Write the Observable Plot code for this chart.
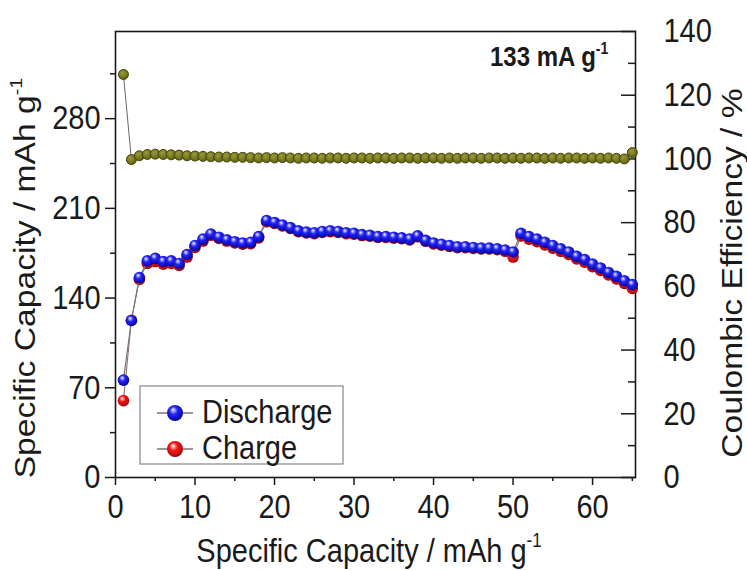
<!DOCTYPE html>
<html><head><meta charset="utf-8">
<script src="https://cdn.jsdelivr.net/npm/d3@7"></script>
<script src="https://cdn.jsdelivr.net/npm/@observablehq/plot@0.6"></script>
<style>body{margin:0;background:#fff;} svg{display:block}</style>
</head><body><div id="chart"></div>
<script>
// ---- data ----
const cycles = [1,2,3,4,5,6,7,8,9,10,11,12,13,14,15,16,17,18,19,20,21,22,23,24,25,26,27,28,29,30,31,32,33,34,35,36,37,38,39,40,41,42,43,44,45,46,47,48,49,50,51,52,53,54,55,56,57,58,59,60,61,62,63,64,65];
const discharge = [76,122.5,156,169,171,168.5,169,167,174,181,186,190,187.5,185.5,184,183,183.5,188,200.5,199,197,195,192.5,191.5,191,192,192.5,192,191,190.5,189.5,189,188,188,187.5,187,186,188.5,185,183,182,181,180,180,179.5,179,179,178.5,177.5,176,190.5,188,186,183.5,181,178.5,176,172.5,170,166.5,163.5,160,157,153.5,150.5];
const charge = [60,122.7,154.5,167,168.5,166.5,167,165.5,172,179.5,184.5,189,186.5,184.5,183,182,182.5,187,199.5,198.3,196.3,194.3,191.8,190.8,190.3,191.3,191.8,191.3,190.3,189.8,188.8,188.3,187.3,187.3,186.8,186.3,185.3,187.8,184.3,182.3,181.3,180.3,179.3,179.3,178.8,178.3,178.3,177.8,176.5,172,188.5,186,184,181.5,179,176.5,174,170.5,168,164.5,161.5,158,155,151.5,147.5];
const efficiency = [126.5,99.8,101,101.4,101.5,101.4,101.3,101.2,101,100.9,100.8,100.7,100.6,100.6,100.5,100.5,100.4,100.3,100.4,100.3,100.4,100.3,100.2,100.3,100.3,100.2,100.3,100.3,100.2,100.3,100.3,100.2,100.3,100.3,100.2,100.3,100.3,100.2,100.3,100.3,100.2,100.3,100.2,100.3,100.3,100.2,100.3,100.3,100.2,100.3,100.2,100.3,100.3,100.2,100.3,100.2,100.3,100.3,100.2,100.3,100.2,100.3,100.2,100.0,102];
const seriesNames = ["Discharge", "Charge"];
const capTicks = [0,70,140,210,280];
const capMinor = [35,105,175,245,315];
const ceTicks = [0,20,40,60,80,100,120,140];
const ceMinor = [10,30,50,70,90,110,130];
const xTicks = [0,10,20,30,40,50,60];
const xMinor = [5,15,25,35,45,55,65];
const xTitle = ["Specific Capacity / mAh g", "-1"];
const yTitle = ["Specific Capacity / mAh g", "-1"];
const y2Title = "Coulombic Efficiency / %";
const rateLabel = ["133 mA g", "-1"];

// ---- scales ----
const capMax = 348, ceMax = 140, K = capMax / ceMax;
const rows = cycles.map((c, i) => ({cycle: c, discharge: discharge[i], charge: charge[i], ce: efficiency[i]}));

const FONT = "'Liberation Sans', Arial, sans-serif";
const STRETCH = 1.16; // reference text is slightly tall
const plot = Plot.plot({
  width: 747, height: 570,
  marginLeft: 115, marginRight: 112, marginTop: 31, marginBottom: 93,
  style: {fontFamily: FONT, fontSize: "29px", background: "#fff", color: "#1a1a1a", overflow: "visible"},
  x: {domain: [0, 65.4], label: null},
  y: {domain: [0, capMax], label: null},
  marks: [
    Plot.axisX({ticks: xTicks, tickSize: 8, tickPadding: 9, label: null, strokeWidth: 1.5}),
    Plot.axisX({ticks: xMinor, tickSize: 4, tickFormat: () => "", label: null, strokeWidth: 1.5}),
    Plot.axisY({anchor: "left", ticks: capTicks, tickSize: 10, tickPadding: 5, label: null, strokeWidth: 1.5}),
    Plot.axisY({anchor: "left", ticks: capMinor, tickSize: 5, tickFormat: () => "", label: null, strokeWidth: 1.5}),
    Plot.axisY({anchor: "right", ticks: ceTicks.map(v => v * K), tickSize: 0, tickPadding: 28, tickFormat: v => String(Math.round(v / K)), label: null}),
    Plot.axisY({anchor: "right", ticks: ceTicks.map(v => v * K), tickSize: -15, tickFormat: () => "", label: null, strokeWidth: 1.5}),
    Plot.axisY({anchor: "right", ticks: ceMinor.map(v => v * K), tickSize: -8, tickFormat: () => "", label: null, strokeWidth: 1.5}),
    Plot.frame({stroke: "#1a1a1a", strokeWidth: 1.6}),
    Plot.line(rows, {x: "cycle", y: d => d.ce * K, stroke: "#666", strokeWidth: 1}),
    Plot.dot(rows, {x: "cycle", y: d => d.ce * K, r: 5, fill: "url(#gOlive)", stroke: "#46460c", strokeWidth: 1}),
    Plot.line(rows, {x: "cycle", y: "charge", stroke: "#8a6a6a", strokeWidth: 1}),
    Plot.dot(rows, {x: "cycle", y: "charge", r: 5.8, fill: "url(#gRed)", stroke: "none"}),
    Plot.line(rows, {x: "cycle", y: "discharge", stroke: "#777", strokeWidth: 1.2}),
    Plot.dot(rows, {x: "cycle", y: "discharge", r: 5.8, fill: "url(#gBlue)", stroke: "none"})
  ]
});

const svg = d3.select(plot);
// stretch the axis tick labels vertically like the reference
svg.selectAll("text").each(function () {
  const t = this.getAttribute("transform") || "";
  this.setAttribute("transform", t + ` scale(1,${STRETCH})`);
});

const defs = svg.insert("defs", ":first-child");
function ball(id, stops) {
  const g = defs.append("radialGradient").attr("id", id)
    .attr("cx", "45%").attr("cy", "42%").attr("r", "60%").attr("fx", "38%").attr("fy", "30%");
  stops.forEach(([o, c]) => g.append("stop").attr("offset", o).attr("stop-color", c));
}
ball("gBlue", [["0%", "#ffffff"], ["16%", "#a0a0ff"], ["42%", "#2525f2"], ["85%", "#0a0ab8"], ["100%", "#05056a"]]);
ball("gRed", [["0%", "#ffffff"], ["16%", "#ffa0a0"], ["42%", "#f01818"], ["85%", "#c00808"], ["100%", "#700000"]]);
ball("gOlive", [["0%", "#9a9a40"], ["60%", "#7a7a20"], ["100%", "#5c5c12"]]);

function supText(sel, parts, sizeMain) {
  sel.append("tspan").text(parts[0]);
  sel.append("tspan").text(parts[1]).attr("font-size", Math.round(sizeMain * 0.6) + "px").attr("dy", "-0.75em");
}
function label(transform, anchor, size, weight) {
  return svg.append("text").attr("transform", transform).attr("text-anchor", anchor)
    .attr("font-family", FONT).attr("font-size", size + "px").attr("font-weight", weight || "normal")
    .attr("fill", "#1a1a1a");
}
// axis titles
supText(label(`translate(369,562) scale(1,${STRETCH})`, "middle", 29), xTitle, 29);
supText(label(`translate(35,278) rotate(-90) scale(${STRETCH},1)`, "middle", 29), yTitle, 29);
label(`translate(742,273) rotate(-90) scale(${STRETCH},1)`, "middle", 29).text(y2Title);
// rate annotation
supText(label(`translate(490,66) scale(1,${STRETCH})`, "start", 24, "bold"), rateLabel, 24);

// legend
const lg = svg.append("g");
lg.append("rect").attr("x", 140).attr("y", 386).attr("width", 203).attr("height", 78)
  .attr("fill", "#fff").attr("stroke", "#888").attr("stroke-width", 1.2);
[["gBlue", 413], ["gRed", 449]].forEach(([g, y], i) => {
  lg.append("line").attr("x1", 157).attr("x2", 193).attr("y1", y).attr("y2", y).attr("stroke", "#777").attr("stroke-width", 1.5);
  lg.append("circle").attr("cx", 175).attr("cy", y).attr("r", 8).attr("fill", `url(#${g})`);
  label(`translate(202,${y + 10}) scale(1,${STRETCH})`, "start", 29).text(seriesNames[i]);
});

document.getElementById("chart").appendChild(plot);
</script>
</body></html>
